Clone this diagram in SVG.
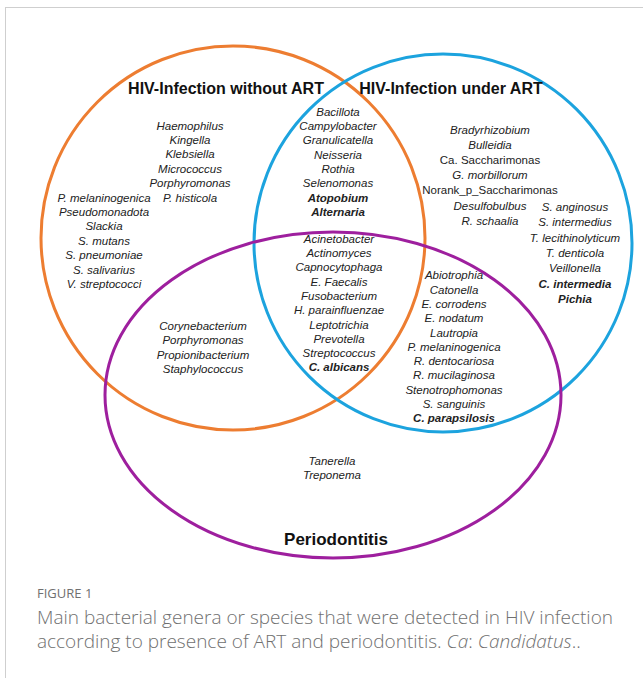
<svg xmlns="http://www.w3.org/2000/svg" width="643" height="678" viewBox="0 0 643 678">
<style>
.sp{font-family:"Liberation Sans",Arial,sans-serif;font-size:11.5px;font-style:italic;fill:#222;text-anchor:middle}
.up{font-style:normal}
.b{font-weight:bold}
.ttl{font-family:"Liberation Sans",Arial,sans-serif;font-size:16px;font-weight:bold;fill:#111;text-anchor:middle}
.ring{fill:none;stroke-width:3}
.cap{font-family:"Open Sans","Liberation Sans",sans-serif;fill:#707070}
</style>
<rect x="5.5" y="7.5" width="660" height="700" fill="#fff" stroke="#cfcfcf" stroke-width="1"/>
<g id="set-without-art">
<circle class="ring" cx="233" cy="238" r="192" stroke="#ED7D31"/>
<text class="ttl" x="226" y="94">HIV-Infection without ART</text>
</g>
<g id="set-under-art">
<circle class="ring" cx="443" cy="243" r="189" stroke="#1CA3DE"/>
<text class="ttl" x="451" y="94">HIV-Infection under ART</text>
</g>
<g id="set-periodontitis">
<ellipse class="ring" cx="333" cy="395" rx="228" ry="163" stroke="#9E1F9E"/>
<text class="ttl" x="336" y="545" style="font-size:17px">Periodontitis</text>
</g>
<g id="connectors"/>
<g id="only-without-art" class="sp">
<text x="190" y="129.5">Haemophilus</text>
<text x="190" y="143.9">Kingella</text>
<text x="190" y="158.3">Klebsiella</text>
<text x="190" y="172.7">Micrococcus</text>
<text x="190" y="187.1">Porphyromonas</text>
<text x="190" y="201.5">P. histicola</text>
<text x="104" y="201.5">P. melaninogenica</text>
<text x="104" y="215.9">Pseudomonadota</text>
<text x="104" y="230.3">Slackia</text>
<text x="104" y="244.7">S. mutans</text>
<text x="104" y="259.1">S. pneumoniae</text>
<text x="104" y="273.5">S. salivarius</text>
<text x="104" y="287.9">V. streptococci</text>
</g>
<g id="both-art" class="sp">
<text x="338" y="115.7">Bacillota</text>
<text x="338" y="130">Campylobacter</text>
<text x="338" y="144.3">Granulicatella</text>
<text x="338" y="158.6">Neisseria</text>
<text x="338" y="172.9">Rothia</text>
<text x="338" y="187.2">Selenomonas</text>
<text class="b" x="338" y="201.5">Atopobium</text>
<text class="b" x="338" y="215.8">Alternaria</text>
</g>
<g id="all-three" class="sp">
<text x="339" y="242.7">Acinetobacter</text>
<text x="339" y="257">Actinomyces</text>
<text x="339" y="271.3">Capnocytophaga</text>
<text x="339" y="285.6">E. Faecalis</text>
<text x="339" y="299.9">Fusobacterium</text>
<text x="339" y="314.2">H. parainfluenzae</text>
<text x="339" y="328.5">Leptotrichia</text>
<text x="339" y="342.8">Prevotella</text>
<text x="339" y="357.1">Streptococcus</text>
<text class="b" x="339" y="371.4">C. albicans</text>
</g>
<g id="without-art-periodontitis" class="sp">
<text x="203" y="330">Corynebacterium</text>
<text x="203" y="344.3">Porphyromonas</text>
<text x="203" y="358.6">Propionibacterium</text>
<text x="203" y="372.9">Staphylococcus</text>
</g>
<g id="under-art-periodontitis" class="sp">
<text x="454" y="279.3">Abiotrophia</text>
<text x="454" y="293.6">Catonella</text>
<text x="454" y="307.9">E. corrodens</text>
<text x="454" y="322.2">E. nodatum</text>
<text x="454" y="336.5">Lautropia</text>
<text x="454" y="350.8">P. melaninogenica</text>
<text x="454" y="365.1">R. dentocariosa</text>
<text x="454" y="379.4">R. mucilaginosa</text>
<text x="454" y="393.7">Stenotrophomonas</text>
<text x="454" y="408">S. sanguinis</text>
<text class="b" x="454" y="422.3">C. parapsilosis</text>
</g>
<g id="only-under-art" class="sp">
<text x="490" y="134">Bradyrhizobium</text>
<text x="490" y="149.1">Bulleidia</text>
<text class="up" x="490" y="164.2">Ca. Saccharimonas</text>
<text x="490" y="179.3">G. morbillorum</text>
<text class="up" x="490" y="194.4">Norank_p_Saccharimonas</text>
<text x="490" y="209.5">Desulfobulbus</text>
<text x="490" y="224.6">R. schaalia</text>
<text x="575" y="211">S. anginosus</text>
<text x="575" y="226.3">S. intermedius</text>
<text x="575" y="241.6">T. lecithinolyticum</text>
<text x="575" y="256.9">T. denticola</text>
<text x="575" y="272.2">Veillonella</text>
<text class="b" x="575" y="287.5">C. intermedia</text>
<text class="b" x="575" y="302.8">Pichia</text>
</g>
<g id="only-periodontitis" class="sp">
<text x="332" y="465">Tanerella</text>
<text x="332" y="479">Treponema</text>
</g>
<g id="caption">
<text class="cap" x="37" y="598" style="font-size:13px">FIGURE 1</text>
<text class="cap" x="37" y="624" style="font-size:19px;font-weight:300">Main bacterial genera or species that were detected in HIV infection</text>
<text class="cap" x="37" y="648" style="font-size:19px;font-weight:300">according to presence of ART and periodontitis. <tspan font-style="italic">Ca</tspan>: <tspan font-style="italic">Candidatus</tspan>..</text>
</g>
</svg>
